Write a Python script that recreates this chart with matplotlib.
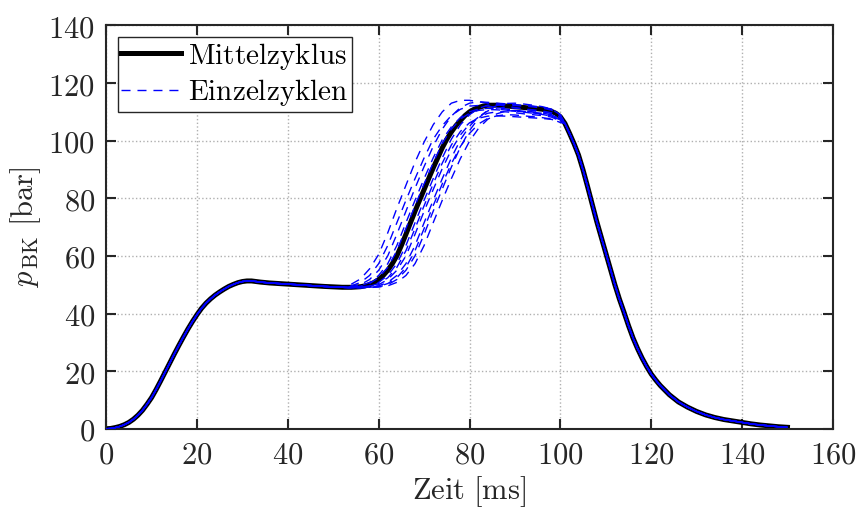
import numpy as np
import matplotlib
matplotlib.use("Agg")
import matplotlib.pyplot as plt
from matplotlib.ticker import FuncFormatter

plt.rcParams["mathtext.fontset"] = "cm"
plt.rcParams["font.family"] = "serif"
plt.rcParams["font.serif"] = ["DejaVu Serif"]

# Mittelzyklus (Zeit in ms, Druck in bar)
t_mean = [0, 1, 2, 3, 4, 5, 6, 7, 8, 9, 10, 11, 12, 13, 14, 15, 16, 17, 18, 19,
          20, 21, 22, 23, 24, 25, 26, 27, 28, 29, 30, 31, 32, 33, 34, 36, 40, 44,
          48, 52, 54, 56, 57, 58, 59, 60, 61, 62, 63, 64, 65, 66, 67, 68, 69, 70,
          71, 72, 73, 74, 75, 76, 77, 78, 79, 80, 81, 82, 83, 84, 86, 88, 90, 92,
          94, 96, 97, 98, 99, 100, 101, 102, 103, 104, 105, 106, 107, 108, 109,
          110, 111, 112, 113, 114, 115, 116, 117, 118, 119, 120, 121, 122, 124,
          126, 128, 130, 132, 134, 136, 138, 140, 142, 144, 146, 148, 150]
p_mean = [0.0, 0.1, 0.4, 0.8, 1.4, 2.2, 3.3, 4.7, 6.4, 8.5, 10.8, 13.6, 16.6, 19.7,
          22.8, 25.9, 28.9, 31.8, 34.6, 37.2, 39.6, 41.8, 43.6, 45.1, 46.4, 47.5,
          48.5, 49.4, 50.1, 50.7, 51.1, 51.3, 51.3, 51.1, 50.9, 50.6, 50.2, 49.8,
          49.4, 49.1, 49.1, 49.3, 49.6, 50.0, 50.8, 51.8, 53.2, 55.0, 57.3, 60.0,
          63.6, 67.5, 71.5, 75.5, 79.3, 83.0, 86.8, 90.5, 94.0, 97.5, 100.5, 103.0,
          105.2, 107.0, 108.7, 110.0, 110.9, 111.5, 112.0, 112.3, 112.3, 112.0,
          111.8, 111.5, 111.2, 110.9, 110.6, 110.2, 109.5, 108.3, 106.0, 102.6,
          99.0, 95.0, 89.8, 84.0, 78.0, 72.0, 66.5, 61.0, 55.5, 50.0, 45.0, 40.5,
          35.8, 31.5, 27.8, 24.5, 21.6, 19.0, 16.9, 15.0, 11.8, 9.3, 7.5, 6.0, 4.8,
          3.9, 3.2, 2.7, 2.2, 1.7, 1.3, 1.0, 0.7, 0.5]

# Einzelzyklen: nur der Bereich 54..100 ms weicht vom Mittelzyklus ab
t_cyc = [54, 56, 58, 60, 62, 64, 66, 68, 70, 72, 74, 76, 78, 80, 82, 84, 86, 88,
         90, 92, 94, 96, 98, 100]
p_cyc1 = [50.2, 52.0, 55.5, 60.5, 68.0, 76.5, 84.5, 92.5, 99.5, 105.5, 110.0, 113.0,
          114.0, 114.0, 113.5, 113.0, 112.5, 112.0, 111.5, 111.0, 110.5, 110.0, 109.5, 108.0]
p_cyc2 = [49.6, 50.8, 53.2, 57.3, 63.6, 71.5, 79.3, 86.8, 94.0, 100.5, 105.2, 108.7,
          110.9, 112.0, 112.2, 112.0, 111.5, 111.0, 110.5, 110.2, 109.8, 109.5, 109.0, 107.5]
p_cyc3 = [49.3, 50.0, 51.8, 55.0, 60.0, 67.5, 75.5, 83.5, 91.0, 98.0, 104.0, 108.5,
          111.5, 113.0, 113.5, 113.3, 113.0, 112.8, 112.5, 112.2, 112.0, 111.6, 111.0, 109.0]
p_cyc4 = [49.2, 49.6, 50.8, 53.2, 57.3, 63.6, 71.5, 79.3, 86.8, 94.0, 100.3, 104.8,
          108.0, 110.0, 111.0, 111.2, 111.0, 110.6, 110.3, 110.0, 109.6, 109.2, 108.6, 107.0]
p_cyc5 = [49.0, 49.2, 49.6, 50.8, 53.2, 57.3, 63.6, 71.5, 79.3, 86.8, 94.0, 100.5,
          105.5, 109.0, 111.2, 112.3, 112.6, 112.5, 112.2, 112.0, 111.7, 111.3, 110.6, 108.6]
p_cyc6 = [49.0, 49.1, 49.3, 50.0, 51.8, 55.0, 60.0, 67.5, 75.5, 83.0, 90.3, 96.8,
          102.0, 105.8, 108.2, 109.5, 110.0, 110.0, 109.7, 109.3, 109.0, 108.7, 108.2, 106.8]
p_cyc7 = [48.9, 49.0, 49.2, 49.6, 50.8, 53.2, 57.3, 63.6, 71.5, 79.3, 86.8, 94.0,
          100.3, 105.0, 108.3, 110.3, 111.3, 111.5, 111.3, 111.0, 110.7, 110.3, 109.7, 108.0]
p_cyc8 = [48.9, 49.0, 49.1, 49.3, 50.0, 51.8, 55.0, 60.0, 67.5, 75.5, 83.2, 90.8,
          97.8, 103.5, 107.8, 110.6, 112.2, 112.9, 113.0, 112.7, 112.3, 111.8, 111.0, 109.0]
p_cyc9 = [48.9, 48.9, 49.0, 49.2, 49.6, 50.8, 53.2, 57.3, 63.6, 71.5, 79.3, 86.8,
          93.8, 99.8, 104.3, 107.4, 109.3, 110.3, 110.5, 110.3, 110.0, 109.6, 109.0, 107.4]
p_cyc10 = [49.0, 49.2, 49.5, 50.4, 52.4, 56.0, 61.8, 69.5, 77.4, 85.0, 92.2, 98.5,
           103.2, 106.2, 107.8, 108.5, 108.6, 108.5, 108.3, 108.1, 107.9, 107.7, 107.4, 106.5]
p_cyc11 = [49.2, 49.5, 50.4, 52.5, 56.0, 61.8, 69.5, 77.4, 85.0, 92.3, 99.0, 104.0,
           107.5, 109.5, 110.5, 110.8, 110.7, 110.5, 110.2, 109.9, 109.5, 109.1, 108.5, 107.2]
p_cyc12 = [48.9, 49.0, 49.1, 49.4, 50.4, 52.4, 56.0, 61.8, 69.5, 77.4, 85.0, 92.0,
           98.0, 102.5, 105.8, 107.7, 108.6, 109.0, 108.9, 108.6, 108.3, 108.0, 107.5, 106.3]
cycles = [p_cyc1, p_cyc2, p_cyc3, p_cyc4, p_cyc5, p_cyc6, p_cyc7, p_cyc8,
          p_cyc9, p_cyc10, p_cyc11, p_cyc12]

x_ticks = [0, 20, 40, 60, 80, 100, 120, 140, 160]
y_ticks = [0, 20, 40, 60, 80, 100, 120, 140]

t_mean = np.array(t_mean, dtype=float)
p_mean = np.array(p_mean, dtype=float)
t_cyc = np.array(t_cyc, dtype=float)

fig = plt.figure(figsize=(8.56, 5.08), dpi=100)
ax = fig.add_axes([0.124, 0.156, 0.849, 0.794])

ax.plot(t_mean, p_mean, color="black", lw=3.6, solid_joinstyle="round",
        label=r"$\mathrm{Mittelzyklus}$", zorder=2)

before = t_mean < t_cyc[0]
after = t_mean > t_cyc[-1]
for i, p in enumerate(cycles):
    t_full = np.concatenate([t_mean[before], t_cyc, t_mean[after]])
    p_full = np.concatenate([p_mean[before], p, p_mean[after]])
    ax.plot(t_full, p_full, color="#0000ff", lw=1.0,
            linestyle=(i * 1.0, (6.5, 5.0)), zorder=3,
            label=r"$\mathrm{Einzelzyklen}$" if i == 0 else None)

ax.set_xlim(0, 160)
ax.set_ylim(0, 140)
ax.set_xticks(x_ticks)
ax.set_yticks(y_ticks)
fmt = FuncFormatter(lambda v, pos: r"$%d$" % v)
ax.xaxis.set_major_formatter(fmt)
ax.yaxis.set_major_formatter(fmt)
ax.tick_params(direction="in", length=7, width=1.5, labelsize=22,
               top=True, right=True, colors="#262626", pad=8)
for s in ax.spines.values():
    s.set_linewidth(1.5)
    s.set_color("#262626")
ax.grid(True, color="#b0b0b0", linestyle=":", linewidth=1.0)

ax.set_xlabel(r"$\mathrm{Zeit}\ [\mathrm{ms}]$", fontsize=22, color="#262626",
              labelpad=2)
ax.set_ylabel(r"$p_{\,\mathrm{BK}}\ [\mathrm{bar}]$", fontsize=22, color="#262626")

leg = ax.legend(loc="upper left", fontsize=21, fancybox=False, framealpha=1,
                edgecolor="#262626", handlelength=2.05, borderpad=0.12,
                labelspacing=0.2, handletextpad=0.25, borderaxespad=0.4)
leg.get_frame().set_linewidth(1.0)

fig.savefig("out.png", dpi=100)
